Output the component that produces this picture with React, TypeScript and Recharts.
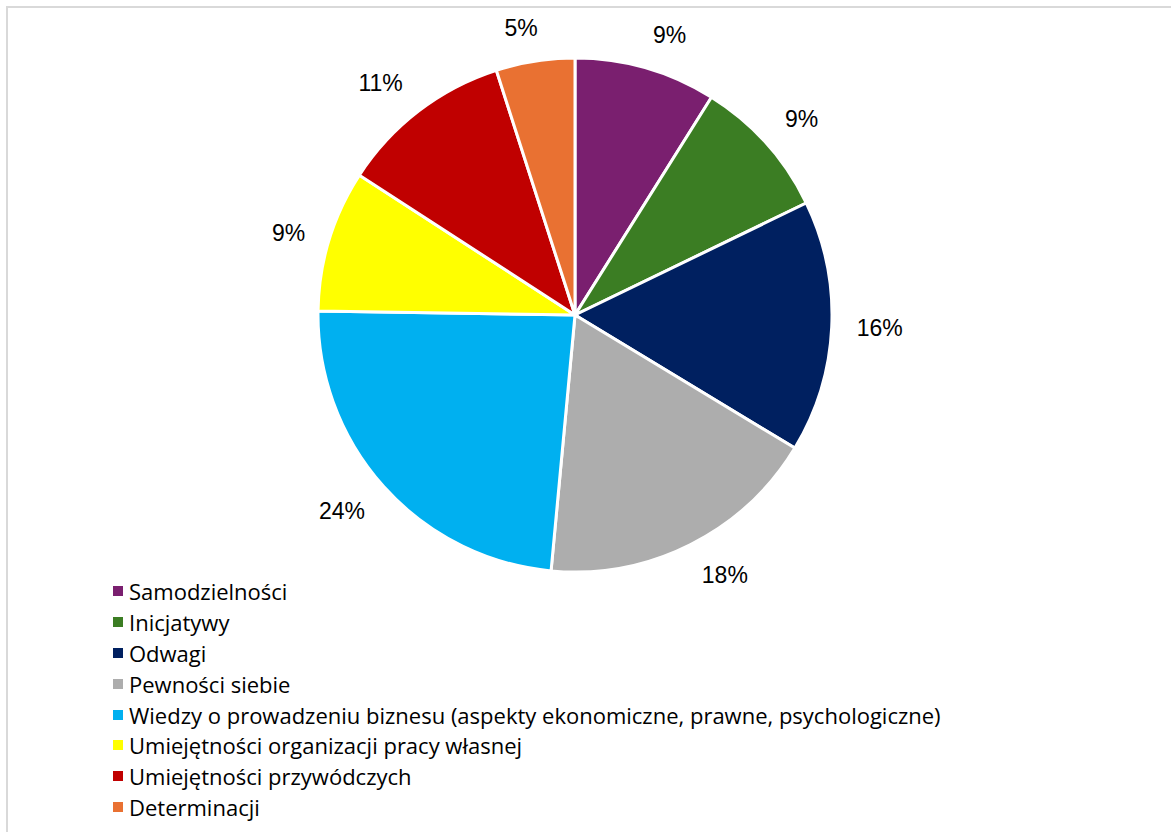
import { Cell, Legend, Pie, PieChart } from "recharts";

const skills = [
  "Samodzielności",
  "Inicjatywy",
  "Odwagi",
  "Pewności siebie",
  "Wiedzy o prowadzeniu biznesu (aspekty ekonomiczne, prawne, psychologiczne)",
  "Umiejętności organizacji pracy własnej",
  "Umiejętności przywódczych",
  "Determinacji",
];

const shares = [9, 9, 16, 18, 24, 9, 11, 5];

const sliceColors = [
  "#7A1F6F",
  "#3B7D23",
  "#002060",
  "#ADADAD",
  "#00B0F0",
  "#FFFF00",
  "#C00000",
  "#E97132",
];

const data = skills.map((name, i) => ({ name, value: shares[i] }));

const RADIAN = Math.PI / 180;
const LABEL_FONT = 23;

// Label box sits just outside the slice, pushed away from the pie
// by (part of) its own half-width / half-height.
function renderShareLabel(props: any) {
  const { cx, cy, midAngle, outerRadius, value } = props;
  const text = `${value}%`;
  const w = ((text.length - 1) * 0.556 + 0.889) * LABEL_FONT;
  const h = 17;
  const dx = Math.cos(-midAngle * RADIAN);
  const dy = Math.sin(-midAngle * RADIAN);
  const r = outerRadius + 25;
  const fx = Math.min(1, Math.abs(dx) * 4);
  const fy = Math.max(0, Math.min(1, (Math.abs(dy) - 0.3) / 0.4));
  const x = cx + r * dx + Math.sign(dx) * (w / 2) * fx;
  const y = cy + r * dy + Math.sign(dy) * (h / 2) * fy;
  return (
    <text
      x={x}
      y={y}
      textAnchor="middle"
      dominantBaseline="central"
      fill="#000"
      fontSize={LABEL_FONT}
      fontFamily="'Liberation Sans', Arial, sans-serif"
    >
      {text}
    </text>
  );
}

function SkillLegend() {
  return (
    <div
      style={{
        fontFamily: "'Open Sans', sans-serif",
        fontSize: 22,
        color: "#000",
      }}
    >
      {data.map((d, i) => (
        <div
          key={d.name}
          style={{ display: "flex", alignItems: "center", height: 30.8, whiteSpace: "nowrap" }}
        >
          <span
            style={{
              display: "inline-block",
              width: 10,
              height: 10,
              background: sliceColors[i],
              marginRight: 6,
            }}
          />
          <span>{d.name}</span>
        </div>
      ))}
    </div>
  );
}

export default function App() {
  return (
    <div
      style={{
        position: "relative",
        width: 1171,
        height: 832,
        background: "#fff",
        overflow: "hidden",
      }}
    >
      <style>{`body { margin: 0; }`}</style>
      <div
        style={{
          position: "absolute",
          left: 6,
          top: 6,
          width: 1200,
          height: 900,
          borderLeft: "2px solid #D9D9D9",
          borderTop: "2px solid #D9D9D9",
        }}
      />
      <PieChart
        width={1171}
        height={832}
        margin={{ top: 0, right: 0, bottom: 0, left: 0 }}
        style={{ position: "absolute", left: 0, top: 0 }}
      >
        <Pie
          data={data}
          dataKey="value"
          nameKey="name"
          cx={575}
          cy={315}
          outerRadius={257}
          startAngle={90}
          endAngle={-270}
          stroke="#fff"
          strokeWidth={3}
          label={renderShareLabel}
          labelLine={false}
          isAnimationActive={false}
        >
          {data.map((d, i) => (
            <Cell key={d.name} fill={sliceColors[i]} />
          ))}
        </Pie>
        <Legend
          content={<SkillLegend />}
          wrapperStyle={{ left: 113, top: 576, width: "auto", bottom: "auto" }}
        />
      </PieChart>
    </div>
  );
}
